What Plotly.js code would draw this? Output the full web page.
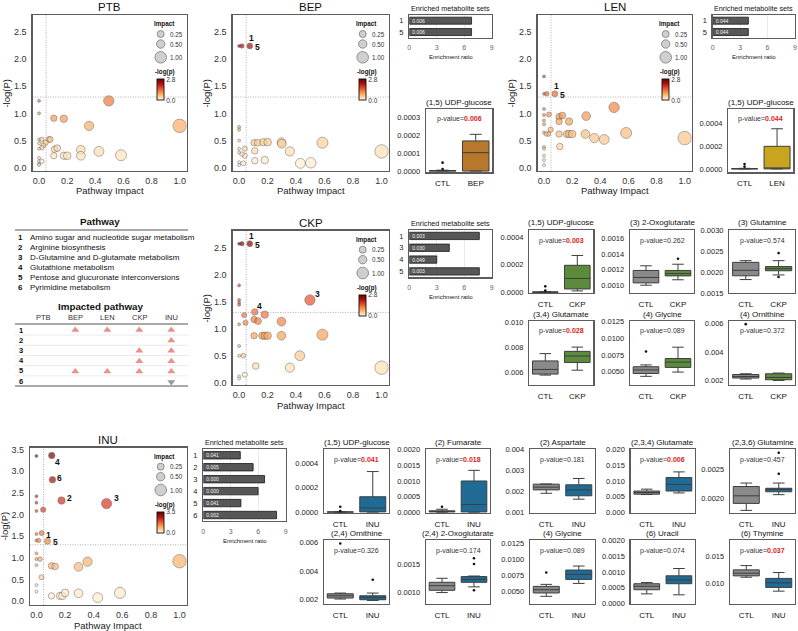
<!DOCTYPE html>
<html><head><meta charset="utf-8">
<script src="https://cdn.plot.ly/plotly-3.0.1.min.js"></script>
<style>html,body{margin:0;padding:0;background:#fff}#c{width:798px;height:631px}</style>
</head><body><div id="c"></div>
<script>
// ================= DATA =================
// Bubble panels: pathway impact vs -log(P)
const ptbImpact=[0.0,0.0,0.105,0.176,0.356,0.496,1.0,0.0,0.02,0.07,0.08,0.047,0.03,0.02,0.0,0.0,0.11,0.13,0.105,0.176,0.2,0.297,0.297,0.426,0.583,0.0,0.0,0.0,0.0,0.02];
const ptbLogP  =[1.23,1.0,0.91,0.90,0.77,1.23,0.77,0.52,0.52,0.52,0.52,0.46,0.41,0.37,0.45,0.35,0.34,0.36,0.22,0.22,0.22,0.33,0.22,0.30,0.23,0.18,0.12,0.07,0.05,0.12];

const bepImpact=[0.0,0.02,0.075,0.0,0.0,0.0,0.0,0.0,0.0,0.04,0.04,0.03,0.0,0.105,0.13,0.17,0.2,0.297,0.30,0.11,0.11,0.18,0.356,0.43,0.503,0.585,1.0,0.02];
const bepLogP  =[2.24,2.24,2.24,0.75,0.70,0.50,0.35,0.28,0.10,0.35,0.22,0.08,0.05,0.46,0.46,0.47,0.47,0.47,0.44,0.31,0.13,0.14,0.30,0.08,0.09,0.46,0.30,0.25];
const bepLabIdx=[2,2]; const bepLabTxt=['1','5'];

const lenImpact=[0.0,0.0,0.02,0.077,0.0,0.0,0.0,0.0,0.035,0.107,0.107,0.13,0.178,0.30,0.498,0.047,0.03,0.0,0.015,0.107,0.163,0.18,0.2,0.294,0.357,0.428,0.584,1.0,0.112,0.0,0.0,0.0,0.0,0.0];
const lenLogP  =[1.68,1.36,1.36,1.36,1.08,0.97,0.87,0.80,0.98,0.94,0.85,0.96,0.85,0.95,1.11,0.70,0.62,0.65,0.62,0.62,0.62,0.62,0.62,0.62,0.545,0.52,0.64,0.545,0.39,0.38,0.35,0.22,0.14,0.05];
const lenLabIdx=[3,3]; const lenLabTxt=['1','5'];

const ckpImpact=[0.0,0.02,0.075,0.0,0.0,0.0,0.0,0.497,0.11,0.035,0.045,0.0,0.105,0.133,0.18,0.297,0.105,0.163,0.18,0.2,0.297,0.585,0.0,0.0,0.03,0.426,0.117,0.356,1.0,0.04,0.0,0.0];
const ckpLogP  =[2.57,2.57,2.57,1.80,1.53,1.48,1.44,1.53,1.31,1.25,1.11,1.08,1.17,1.14,1.26,1.13,0.87,0.87,0.87,0.87,0.87,0.89,0.68,0.50,0.50,0.50,0.31,0.28,0.28,0.15,0.12,0.08];
const ckpLabIdx=[2,2,7,8]; const ckpLabTxt=['1','5','3','4'];

const inuImpact=[0.0,0.107,0.112,0.175,0.49,0.0,0.0,0.0,0.047,0.0,0.037,0.0,0.015,0.077,0.0,0.0,0.025,0.0,0.105,0.13,0.294,0.357,1.0,0.035,0.0,0.0,0.105,0.164,0.18,0.2,0.294,0.428,0.584];
const inuLogP  =[3.35,3.36,2.80,2.32,2.25,2.42,2.27,2.08,2.11,1.55,1.57,1.40,1.40,1.38,1.10,0.97,0.97,0.83,0.815,0.80,0.79,0.91,0.92,0.55,0.37,0.22,0.12,0.12,0.12,0.19,0.18,0.08,0.19];
const inuLabIdx=[1,2,3,4,10,13]; const inuLabTxt=['4','6','2','3','1','5'];

// Enriched metabolite sets
const bepSetIds=['1','5']; const bepSetRatio=[6.8,6.8]; const bepSetP=['0.006','0.006'];
const lenSetIds=['1','5']; const lenSetRatio=[3.9,3.9]; const lenSetP=['0.044','0.044'];
const ckpSetIds=['1','3','4','5']; const ckpSetRatio=[7.65,4.37,3.0,7.65]; const ckpSetP=['0.003','0.030','0.049','0.003'];
const inuSetIds=['1','2','3','4','5','6']; const inuSetRatio=[4.04,5.44,6.69,5.99,4.11,8.0]; const inuSetP=['0.041','0.005','0.000','0.000','0.041','0.002'];

// Pathway table
const pathwayNames=['Amino sugar and nucleotide sugar metabolism','Arginine biosynthesis','D-Glutamine and D-glutamate metabolism','Glutathione metabolism','Pentose and glucuronate interconversions','Pyrimidine metabolism'];
const groupNames=['PTB','BEP','LEN','CKP','INU'];
const upRows=[1,1,1,1,2,3,3,4,4,5,5,5,5];
const upCols=['BEP','LEN','CKP','INU','INU','CKP','INU','CKP','INU','BEP','LEN','CKP','INU'];
const downRows=[6]; const downCols=['INU'];

// Box plots: stats = [lowerfence, q1, median, q3, upperfence]
const bepBoxTitle='(1,5) UDP-glucose'; const bepCtlStats=[0,0,0.000001,0.000003,0.000005]; const bepGrpStats=[0,0,0.000103,0.000169,0.000206];
const bepCtlOut=[0.000047,0.000011]; const bepP='0.006';
const lenBoxTitle='(1,5) UDP-glucose'; const lenCtlStats=[0,0,0.000001,0.000003,0.000005]; const lenGrpStats=[0,0,0,0.0002,0.000355];
const lenCtlOut=[0.000044,0.00002]; const lenP='0.044';

const ckpBoxTitles=['(1,5) UDP-glucose','(3) 2-Oxoglutarate','(3) Glutamine','(3,4) Glutamate','(4) Glycine','(4) Ornithine'];
const ckpCtlStats=[[0,0,0.000001,0.000003,0.000005],[0.00100,0.00103,0.00110,0.00119,0.00125],[0.00182,0.00191,0.00204,0.00223,0.00227],[0.00579,0.00587,0.00624,0.00692,0.0075],[0.0043,0.00473,0.00526,0.00574,0.00601],[0.00212,0.00219,0.0023,0.00244,0.00249]];
const ckpGrpStats=[[0.00001,0.000024,0.0001,0.000195,0.000266],[0.00107,0.00112,0.00115,0.00119,0.00127],[0.00193,0.00203,0.00208,0.00213,0.00227],[0.00618,0.00679,0.00731,0.00768,0.00802],[0.00494,0.00564,0.00644,0.00697,0.00867],[0.00202,0.00207,0.00223,0.00249,0.00254]];
const ckpCtlOut=[[0.000043,0.000012],[],[],[],[0.00803],[0.00598]];
const ckpGrpOut=[[],[0.00134],[0.00245,0.00188],[],[],[]];
const ckpPvals=['0.003','0.262','0.574','0.028','0.089','0.372'];
const ckpSig=[true,false,false,true,false,false];

const inuBoxTitles=['(1,5) UDP-glucose','(2) Fumarate','(2) Aspartate','(2,3,4) Glutamate','(2,3,6) Glutamine','(2,4) Ornithine','(2,4) 2-Oxoglutarate','(4) Glycine','(6) Uracil','(6) Thymine'];
const inuCtlStats=[[0,0,0.000002,0.000004,0.000005],[0,0.00001,0.00003,0.00005,0.0001],[0.00192,0.00208,0.00221,0.00235,0.00236],[0.00568,0.0058,0.00632,0.0068,0.0074],[0.00179,0.00191,0.00204,0.0022,0.00226],[0.00205,0.00212,0.00228,0.00242,0.00247],[0.0010,0.00104,0.00112,0.00118,0.00125],[0.00421,0.00474,0.00525,0.00578,0.0061],[0.00031,0.00044,0.00055,0.00063,0.00067],[0.01112,0.01137,0.01187,0.0125,0.0133]];
const inuGrpStats=[[0,0.000003,0.000035,0.000126,0.00033],[0,0.00001,0.00025,0.0010,0.00134],[0.00164,0.0018,0.00208,0.00232,0.00262],[0.0062,0.0068,0.0089,0.0111,0.0129],[0.00206,0.00211,0.00215,0.00217,0.00226],[0.00195,0.0020,0.00216,0.00228,0.00247],[0.0011,0.00118,0.00123,0.00128,0.00129],[0.00625,0.00688,0.00767,0.00836,0.00899],[0.00028,0.00063,0.00075,0.00088,0.00111],[0.00851,0.00921,0.01007,0.0109,0.012]];
const inuCtlOut=[[0.000045,0.00001],[0.00018],[],[],[],[0.00595],[],[0.00798],[],[]];
const inuGrpOut=[[],[],[],[],[0.00242,0.00278],[0.00341],[0.00104,0.0015,0.0016],[],[],[]];
const inuPvals=['0.041','0.018','0.181','0.006','0.457','0.326','0.174','0.089','0.074','0.037'];
const inuSig=[true,true,false,true,false,false,false,false,false,true];

// ================= DRAWING =================
const W=798,H=631;
const X=p=>p/W, Y=p=>1-p/H;
const FONT='Liberation Sans, Arial, Helvetica, sans-serif';
const traces=[], annotations=[], shapes=[];
const layout={width:W,height:H,margin:{l:0,r:0,t:0,b:0},paper_bgcolor:'#fff',plot_bgcolor:'#fff',showlegend:false,
  font:{family:FONT,color:'#222'},annotations:annotations,shapes:shapes,hovermode:false};
let axN=0;
function axes(x0,x1,y0,y1,xo,yo){
  axN++; const s=axN===1?'':String(axN);
  layout['xaxis'+s]=Object.assign({domain:[X(x0),X(x1)],anchor:'y'+s,fixedrange:true},xo);
  layout['yaxis'+s]=Object.assign({domain:[Y(y1),Y(y0)],anchor:'x'+s,fixedrange:true},yo);
  return {x:'x'+s,y:'y'+s};
}
function txt(x,y,text,size,o){
  annotations.push(Object.assign({xref:'paper',yref:'paper',x:X(x),y:Y(y),text:text,showarrow:false,
    font:{size:size,family:FONT,color:'#111'},xanchor:'center',yanchor:'middle',borderpad:0},o||{}));
}
function hline(x0,x1,y,color,w){shapes.push({type:'line',xref:'paper',yref:'paper',x0:X(x0),x1:X(x1),y0:Y(y),y1:Y(y),line:{color:color,width:w}});}
const FRAME={showline:true,mirror:true,linecolor:'#5c5c5c',linewidth:1.3,showgrid:false,zeroline:false,ticks:'outside',ticklen:3,tickcolor:'rgba(0,0,0,0)'};
const CS=[[0,'#fff3de'],[0.1,'#fee0b2'],[0.2,'#fcc487'],[0.3,'#f9a65c'],[0.42,'#f27f40'],[0.55,'#e4512c'],[0.68,'#cc2a1e'],[0.8,'#a3100f'],[1,'#6e0000']];

function bubble(name,fx0,fx1,fy0,fy1,imp,lp,cmax,yr,ytv,labIdx,labTxt,labOff){
  const a=axes(fx0,fx1,fy0,fy1,
    Object.assign({},FRAME,{range:[-0.045,1.05],tickvals:[0,0.2,0.4,0.6,0.8,1.0],tickformat:'.1f',tickfont:{size:9,color:'#333'},ticklen:1}),
    Object.assign({},FRAME,{range:yr,tickvals:ytv,tickformat:'.1f',tickfont:{size:9,color:'#333'}}));
  txt((fx0+fx1)/2,fy1+20,'Pathway Impact',9.5,{font:{size:9.5,family:FONT,color:'#222'}});
  txt(fx0-26,(fy0+fy1)/2,'-log(P)',9.5,{textangle:-90,font:{size:9.5,family:FONT,color:'#222'}});
  const dl={color:'#9c9c9c',width:0.8,dash:'1px,1.5px'};
  shapes.push({type:'line',xref:a.x,yref:a.y+' domain',x0:0.05,x1:0.05,y0:0,y1:1,line:dl,layer:'below'});
  shapes.push({type:'line',xref:a.x+' domain',yref:a.y,x0:0,x1:1,y0:1.3,y1:1.3,line:dl,layer:'below'});
  traces.push({type:'scatter',mode:'markers',x:imp,y:lp,xaxis:a.x,yaxis:a.y,hoverinfo:'skip',
    marker:{size:imp.map(v=>3+10.5*Math.sqrt(v)),color:lp,cmin:0,cmax:cmax,colorscale:CS,line:{color:'#4a4a4a',width:0.6},showscale:true,
      colorbar:{x:X(fx1-29.4),xanchor:'left',y:Y(fy0+75),yanchor:'middle',len:21.4,lenmode:'pixels',thickness:6.7,thicknessmode:'pixels',
        outlinewidth:0.9,outlinecolor:'#111',tickvals:[0,cmax],ticktext:['0.0',cmax.toFixed(1)],tickfont:{size:6.5,color:'#333',family:FONT},
        ticks:'',xpad:0,ypad:0,borderwidth:0}}});
  txt((fx0+fx1)/2,fy0-8,name,11.5);
  // impact legend
  txt(fx1-22,fy0+9,'<b>Impact</b>',6.3);
  const leg=[[19,3.5,'0.25'],[29,4.2,'0.50'],[42.3,5.8,'1.00']];
  leg.forEach(l=>{
    shapes.push({type:'circle',xref:'paper',yref:'paper',xsizemode:'pixel',ysizemode:'pixel',xanchor:X(fx1-26),yanchor:Y(fy0+l[0]),
      x0:-l[1],x1:l[1],y0:-l[1],y1:l[1],fillcolor:'#cfcfcf',line:{color:'#6a6a6a',width:0.7}});
    txt(fx1-17.8,fy0+l[0],l[2],6.3,{xanchor:'left',font:{size:6.3,family:FONT,color:'#333'}});
  });
  txt(fx1-22,fy0+57.3,'<b>-log(p)</b>',6.3);
  labIdx.forEach((idx,i)=>{
    const o=labOff[i];
    annotations.push({xref:a.x,yref:a.y,x:imp[idx],y:lp[idx],text:'<b>'+labTxt[i]+'</b>',showarrow:false,xshift:o[0],yshift:-o[1],
      font:{size:8.5,family:FONT,color:'#111'},xanchor:'center',yanchor:'middle'});
  });
}

function enriched(fx0,fx1,fy0,fy1,ids,vals,pv){
  const a=axes(fx0,fx1,fy0,fy1,
    Object.assign({},FRAME,{range:[0,9],tickvals:[0,3,6,9],tickfont:{size:7,color:'#666'},showgrid:true,gridcolor:'#e6e6e6',gridwidth:0.8}),
    Object.assign({},FRAME,{type:'category',categoryarray:ids,range:[ids.length-0.5,-0.5],tickfont:{size:7.5,color:'#222'}}));
  traces.push({type:'bar',orientation:'h',x:vals,y:ids,xaxis:a.x,yaxis:a.y,width:0.62,hoverinfo:'skip',
    marker:{color:'#575757',line:{color:'#1a1a1a',width:0.8}},text:pv,textposition:'inside',insidetextanchor:'start',
    textfont:{size:5,color:'#f0f0f0',family:FONT},constraintext:'none',cliponaxis:false});
  txt((fx0+fx1)/2,fy0-6.5,'Enriched metabolite sets',7.2);
  txt((fx0+fx1)/2,fy1+19.5,'Enrichment ratio',6);
}

const COL={CTL:'#8a8a8a',BEP:'#b8782c',LEN:'#c9a41f',CKP:'#5b8b3b',INU:'#1f6b96'};
function boxPanel(fx0,fx1,fy0,fy1,title,grp,ctl,gs,cOut,gOut,p,sig,yr,tv,fmt){
  const a=axes(fx0,fx1,fy0,fy1,
    Object.assign({},FRAME,{type:'category',categoryarray:['CTL',grp],range:[-0.5,1.5],tickfont:{size:8,color:'#111'}}),
    Object.assign({},FRAME,{range:yr,tickvals:tv,tickformat:fmt,tickfont:{size:7.5,color:'#222'}}));
  [['CTL',ctl],[grp,gs]].forEach(g=>{
    const s=g[1];
    traces.push({type:'box',x:[g[0]],lowerfence:[s[0]],q1:[s[1]],median:[s[2]],q3:[s[3]],upperfence:[s[4]],
      xaxis:a.x,yaxis:a.y,width:0.8,whiskerwidth:0.45,boxpoints:false,fillcolor:COL[g[0]],line:{color:'#3e3e3e',width:1},hoverinfo:'skip'});
  });
  const ox=[],oy=[];
  cOut.forEach(v=>{ox.push('CTL');oy.push(v);});
  gOut.forEach(v=>{ox.push(grp);oy.push(v);});
  if(ox.length) traces.push({type:'scatter',mode:'markers',x:ox,y:oy,xaxis:a.x,yaxis:a.y,marker:{size:2.6,color:'#111'},hoverinfo:'skip',cliponaxis:false});
  txt((fx0+fx1)/2,fy0-7,title,8);
  const pt=sig?'<span style="color:#e0201b"><b>'+p+'</b></span>':p;
  txt((fx0+fx1)/2,fy0+10.5,'p-value='+pt,7,{font:{size:7,family:FONT,color:'#333'}});
}

// ---- bubbles ----
const off15=[[2,-8],[8,1]];
bubble('PTB',32.7,186.7,15,170.7,ptbImpact,ptbLogP,2.8,[-0.055,2.81],[0,0.5,1,1.5,2,2.5],[],[],[]);
bubble('BEP',232.7,388.7,15,170.7,bepImpact,bepLogP,2.8,[-0.055,2.81],[0,0.5,1,1.5,2,2.5],bepLabIdx,bepLabTxt,off15);
bubble('LEN',537.7,691.7,15,170.7,lenImpact,lenLogP,2.8,[-0.055,2.81],[0,0.5,1,1.5,2,2.5],lenLabIdx,lenLabTxt,off15);
bubble('CKP',232.7,388.7,230.7,385,ckpImpact,ckpLogP,2.8,[-0.04,2.81],[0,0.5,1,1.5,2,2.5],ckpLabIdx,ckpLabTxt,[[2,-8],[8,1],[8,-6],[5,-6]]);
bubble('INU',30,186.7,447.7,605,inuImpact,inuLogP,3.5,[-0.09,3.54],[0,0.5,1,1.5,2,2.5,3,3.5],inuLabIdx,inuLabTxt,[[6,6],[7,-2],[8,-3],[10,-6],[7,2],[8,1]]);

// ---- enriched sets ----
enriched(409.3,491.7,15,37.7,bepSetIds,bepSetRatio,bepSetP);
enriched(712.7,795,15,37.7,lenSetIds,lenSetRatio,lenSetP);
enriched(409.3,491.7,230,277.3,ckpSetIds,ckpSetRatio,ckpSetP);
enriched(203.3,285.7,449.3,521,inuSetIds,inuSetRatio,inuSetP);

// ---- BEP / LEN boxes ----
boxPanel(426,492.3,109,172.3,bepBoxTitle,'BEP',bepCtlStats,bepGrpStats,bepCtlOut,[],bepP,true,[-0.000007,0.000348],[0,0.0001,0.0002,0.0003],'.4f');
boxPanel(728.3,793.3,109,172.3,lenBoxTitle,'LEN',lenCtlStats,lenGrpStats,lenCtlOut,[],lenP,true,[-0.00003,0.00053],[0,0.0002,0.0004],'.4f');

// ---- CKP boxes ----
const ckpCols=[[529.3,593.3],[630,694],[729.3,795]];
const ckpRows=[[230,293],[321,385]];
const ckpRanges=[[-0.000005,0.00045],[0.0009,0.00171],[0.0015,0.0030],[0.005,0.0101],[0.003,0.0126],[0.0017,0.0062]];
const ckpTicks=[[0,0.0002,0.0004],[0.001,0.0012,0.0014,0.0016],[0.0015,0.002,0.0025,0.003],[0.006,0.008,0.010],[0.005,0.0075,0.01,0.0125],[0.002,0.004,0.006]];
const ckpFmt=['.4f','.4f','.4f','.3f','.4f','.3f'];
ckpBoxTitles.forEach((t,i)=>{
  const c=ckpCols[i%3], r=ckpRows[Math.floor(i/3)];
  boxPanel(c[0],c[1],r[0],r[1],t,'CKP',ckpCtlStats[i],ckpGrpStats[i],ckpCtlOut[i],ckpGrpOut[i],ckpPvals[i],ckpSig[i],ckpRanges[i],ckpTicks[i],ckpFmt[i]);
});

// ---- INU boxes ----
const inuCols=[[324,389],[426,490],[530,595],[630.7,695],[730,795]];
const inuRows=[[449.3,512.7],[540,604]];
const inuRanges=[[-0.000003,0.00051],[-0.00001,0.00201],[0.001,0.004],[-0.0001,0.0201],[0.00175,0.00284],[0.0017,0.0062],[0.0008,0.00192],[0.003,0.0131],[-0.00001,0.00201],[0.0061,0.0181]];
const inuTicks=[[0,0.0002,0.0004],[0,0.0005,0.001,0.0015,0.002],[0.001,0.002,0.003,0.004],[0,0.005,0.01,0.015,0.02],[0.002,0.0025],[0.002,0.004,0.006],[0.001,0.0015],[0.005,0.0075,0.01,0.0125],[0,0.0005,0.001,0.0015,0.002],[0.01,0.015]];
const inuFmt=['.4f','.4f','.3f','.3f','.4f','.3f','.4f','.4f','.4f','.3f'];
inuBoxTitles.forEach((t,i)=>{
  const c=inuCols[i%5], r=inuRows[Math.floor(i/5)];
  boxPanel(c[0],c[1],r[0],r[1],t,'INU',inuCtlStats[i],inuGrpStats[i],inuCtlOut[i],inuGrpOut[i],inuPvals[i],inuSig[i],inuRanges[i],inuTicks[i],inuFmt[i]);
});

// ---- Pathway table ----
txt(100,221.7,'<b>Pathway</b>',9.8);
hline(15,188,230,'#8c8c8c',1.5);
pathwayNames.forEach((n,i)=>{
  const y=237.3+10*i;
  txt(20,y,'<b>'+(i+1)+'</b>',8);
  txt(28.5,y,n,8,{xanchor:'left'});
});
txt(100,306.7,'<b>Impacted pathway</b>',9.8);
groupNames.forEach((g,i)=>txt(43.3+32*i,317.8,g,7.5,{font:{size:7.5,family:FONT,color:'#333'}}));
hline(15,188,324,'#8c8c8c',1.5);
for(let i=0;i<5;i++) hline(15,188,335.1+10.2*i,'#dcdcdc',0.6);
hline(15,188,386,'#8c8c8c',1.5);
for(let i=0;i<6;i++) txt(21,330+10.2*i,'<b>'+(i+1)+'</b>',7.5);
const ta=axes(15,188,324,386,{type:'category',categoryarray:groupNames,range:[-0.884,4.522],visible:false},
  {range:[6.39,0.41],visible:false});
traces.push({type:'scatter',mode:'markers',x:upCols,y:upRows,xaxis:ta.x,yaxis:ta.y,hoverinfo:'skip',
  marker:{symbol:'triangle-up',size:7,color:'#e8928b'}});
traces.push({type:'scatter',mode:'markers',x:downCols,y:downRows,xaxis:ta.x,yaxis:ta.y,hoverinfo:'skip',
  marker:{symbol:'triangle-down',size:7,color:'#9a9a9a'}});

Plotly.newPlot('c',traces,layout,{staticPlot:true,displayModeBar:false});
</script>
</body></html>
